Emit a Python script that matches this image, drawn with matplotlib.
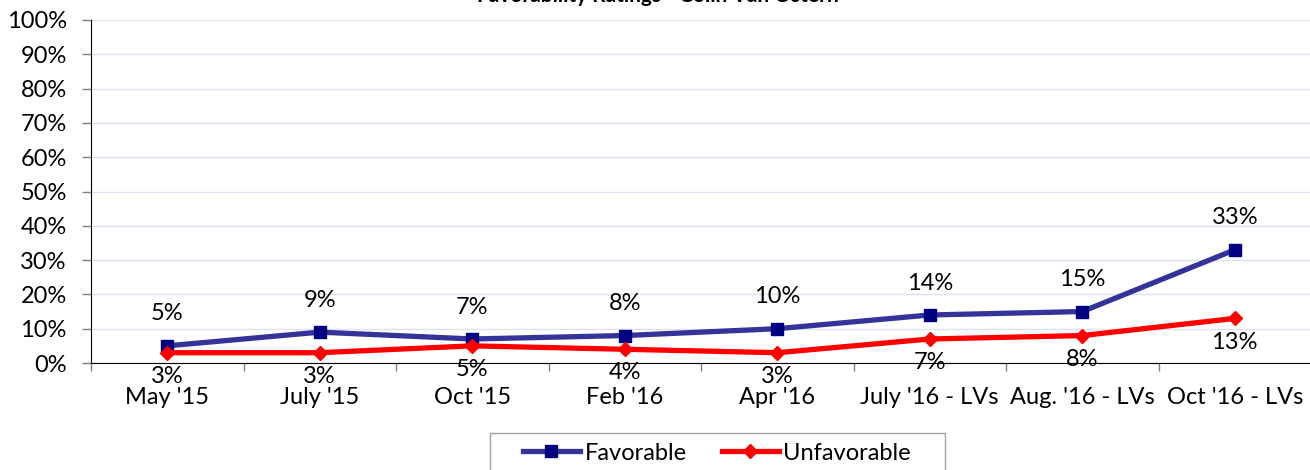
import matplotlib.pyplot as plt
from matplotlib.patches import Rectangle
from matplotlib.ticker import FixedLocator, PercentFormatter

categories = ["May '15", "July '15", "Oct '15", "Feb '16", "Apr '16",
              "July '16 - LVs", "Aug. '16 - LVs", "Oct '16 - LVs"]
favorable = [5, 9, 7, 8, 10, 14, 15, 33]
unfavorable = [3, 3, 5, 4, 3, 7, 8, 13]
title = "Favorability Ratings - Colin Van Ostern"

plt.rcParams['font.family'] = ['Lato', 'DejaVu Sans']
W, H = 1310, 470

fig = plt.figure(figsize=(W / 100, H / 100), dpi=100)
ax = fig.add_axes([91 / W, 1 - 363 / H, 1220 / W, 343 / H])

x = list(range(len(categories)))
ax.plot(x, favorable, color='#333399', lw=3.8, marker='s', ms=8.5,
        mfc='#000080', mec='#000080', label='Favorable', zorder=3)
ax.plot(x, unfavorable, color='#FF0000', lw=3.8, marker='D', ms=7.5,
        mfc='#FF0000', mec='#FF0000', label='Unfavorable', zorder=3)

for i, v in enumerate(favorable):
    ax.annotate(f"{v}%", (i, v), xytext=(0, 23), textcoords='offset points',
                ha='center', va='center', fontsize=17)
for i, v in enumerate(unfavorable):
    ax.annotate(f"{v}%", (i, v), xytext=(0, -17), textcoords='offset points',
                ha='center', va='center', fontsize=17)

ax.set_xlim(-0.5, len(categories) - 0.5)
ax.set_ylim(0, 100)
ax.yaxis.set_major_locator(FixedLocator(range(0, 101, 10)))
ax.yaxis.set_major_formatter(PercentFormatter(decimals=0))
ax.set_xticks(x)
ax.set_xticklabels(categories)
ax.xaxis.set_minor_locator(FixedLocator([i - 0.5 for i in range(len(categories) + 1)]))
ax.tick_params(axis='x', which='major', length=0, pad=17, labelsize=17)
ax.tick_params(axis='x', which='minor', length=6, width=1, color='#808080')
ax.tick_params(axis='y', length=6.5, width=1, color='#808080', labelsize=17,
               direction='out', pad=11)
ax.grid(axis='y', color='#DCE3F0', lw=1)
ax.set_axisbelow(True)
for s in ['top', 'right']:
    ax.spines[s].set_visible(False)
ax.spines['left'].set_color('black')
ax.spines['bottom'].set_color('black')

fig.text(658 / W, 1 + 4 / H, title, ha='center', va='center',
         fontsize=15, fontweight='bold')

# legend frame runs off the bottom edge like in the original
fig.patches.append(Rectangle((490 / W, -0.05), 455 / W, 0.05 + (H - 433) / H,
                             transform=fig.transFigure, fill=False,
                             edgecolor='#A0A0A0', lw=1))
fig.legend(loc='center', bbox_to_anchor=(717 / W, 1 - 453 / H),
           ncol=2, frameon=False, fontsize=17, handlelength=2.4,
           handletextpad=0.2, columnspacing=1.5)

fig.savefig('out.png', dpi=100)
